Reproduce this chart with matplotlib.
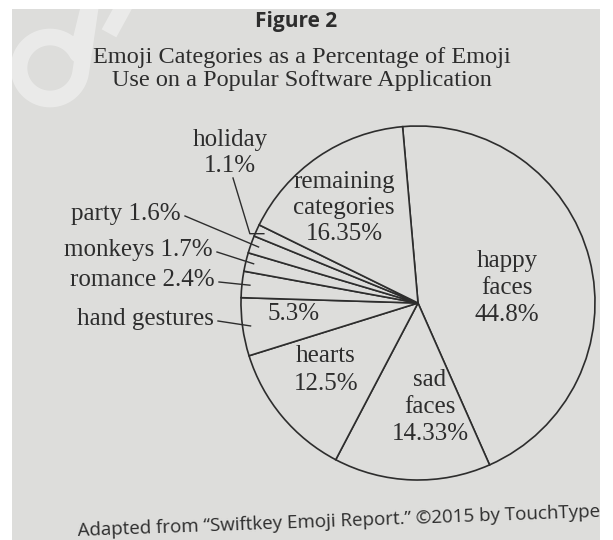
import numpy as np
import matplotlib.pyplot as plt
from matplotlib.patches import Rectangle

# emoji share data
categories = ["happy faces", "sad faces", "hearts", "hand gestures", "romance",
              "monkeys", "party", "holiday", "remaining categories"]
shares = [44.8, 14.33, 12.5, 5.3, 2.4, 1.7, 1.6, 1.1, 16.35]
share_text = ["44.8%", "14.33%", "12.5%", "5.3%", "2.4%",
              "1.7%", "1.6%", "1.1%", "16.35%"]

W, H = 613, 540
BG = "#dddddb"
INK = "#2d2d2d"
SERIF = ["Liberation Serif", "DejaVu Serif"]
SANS = ["Open Sans", "DejaVu Sans"]


def px(x, y):
    # image pixel (y down) -> data coords (y up)
    return x, H - y


def lines_at(x, y, lines, step, **kw):
    # draw a block of lines centred on (x, y), one text per line
    n = len(lines)
    for i, s in enumerate(lines):
        yy = y + (i - (n - 1) / 2) * step
        ax.text(*px(x, yy), s, ha="center", va="center", color=INK, **kw)


fig = plt.figure(figsize=(W / 100, H / 100), dpi=100, facecolor="white")
ax = fig.add_axes([0, 0, 1, 1])

# the photographed page
ax.add_patch(Rectangle((12, 0), 588, H - 9, facecolor=BG, edgecolor="none", zorder=0))

# faint watermark in the corner
t = np.linspace(0.15 * np.pi, 1.95 * np.pi, 80)
wx = 50 + 31 * np.cos(t)
wy = 68 - 31 * np.sin(t)
wx = np.concatenate([[92], wx, [92]])
wy = np.concatenate([[-5], wy, [-5]])
ax.plot(wx, H - wy, color="white", lw=12, alpha=0.4, solid_capstyle="butt", zorder=1)
ax.plot([130, 113], [H + 5, H - 26], color="white", lw=12, alpha=0.4, zorder=1)

# pie
cx, cy = px(418, 303)
R = 177
wedges, _ = ax.pie(shares, startangle=95, counterclock=False, center=(cx, cy),
                   radius=R, colors=[BG] * len(shares), frame=True,
                   wedgeprops=dict(edgecolor=INK, linewidth=1.2))
for w in wedges:
    w.set_zorder(2)

# labels inside the big slices
lines_at(507, 288, ["happy", "faces", share_text[0]], 27, fontsize=18, family=SERIF)
lines_at(430, 407, ["sad", "faces", share_text[1]], 27, fontsize=18, family=SERIF)
lines_at(326, 370, ["hearts", share_text[2]], 28, fontsize=18, family=SERIF)
lines_at(294, 314, [share_text[3]], 27, fontsize=18, family=SERIF)
lines_at(344, 208, ["remaining", "categories", share_text[8]], 26, fontsize=18, family=SERIF)


def mid_point(i, r):
    w = wedges[i]
    a = np.deg2rad((w.theta1 + w.theta2) / 2)
    return cx + r * np.cos(a), cy + r * np.sin(a)


# outside labels with leader lines
outside = [(3, "hand gestures", 214, 319),
           (4, "romance " + share_text[4], 215, 280),
           (5, "monkeys " + share_text[5], 213, 250),
           (6, "party " + share_text[6], 181, 214)]
for i, s, x, y in outside:
    ax.text(*px(x, y), s, ha="right", va="center", fontsize=18,
            family=SERIF, color=INK)
    ex, ey = mid_point(i, R - 8)
    sx, sy = px(x + 4, y + 2)
    ax.plot([sx, ex], [sy, ey], color=INK, lw=1.0, zorder=3)

lines_at(230, 153, ["holiday", share_text[7]], 26, fontsize=18, family=SERIF)
ex, ey = mid_point(7, R - 8)
kx, ky = ex - 14, ey
sx, sy = px(233, 178)
ax.plot([sx, kx, ex], [sy, ky, ey], color=INK, lw=1.0, zorder=3)

# headings
ax.text(*px(296, 21), "Figure 2", ha="center", va="center", fontsize=15,
        fontweight="bold", family=SANS, color=INK)
lines_at(302, 69, ["Emoji Categories as a Percentage of Emoji",
                   "Use on a Popular Software Application"], 23,
         fontsize=17.5, family=SERIF)

ax.text(*px(78, 536), "Adapted from \u201cSwiftkey Emoji Report.\u201d \u00a92015 by TouchType",
        ha="left", va="baseline", rotation=2.1, rotation_mode="anchor",
        fontsize=13.5, family=SANS, color=INK)

ax.set_xlim(0, W)
ax.set_ylim(0, H)
ax.set_aspect("auto")
ax.axis("off")

fig.savefig("out.png", dpi=100, facecolor="white")
